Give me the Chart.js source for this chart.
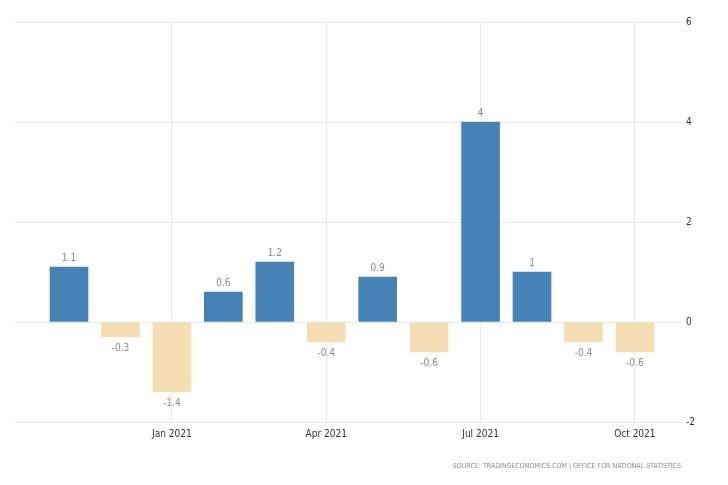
<!DOCTYPE html>
<html>
<head>
<meta charset="utf-8">
<script src="https://cdn.jsdelivr.net/npm/chart.js@4"></script>
<style>
  html, body { margin: 0; padding: 0; background: #fff; }
  #wrap { width: 728px; height: 485px; position: relative; }
</style>
</head>
<body>
<div id="wrap"><canvas id="chart"></canvas></div>
<script>
// monthly change, Nov 2020 .. Oct 2021
const months = ['Nov 2020', 'Dec 2020', 'Jan 2021', 'Feb 2021', 'Mar 2021', 'Apr 2021',
                'May 2021', 'Jun 2021', 'Jul 2021', 'Aug 2021', 'Sep 2021', 'Oct 2021'];
const values = [1.1, -0.3, -1.4, 0.6, 1.2, -0.4, 0.9, -0.6, 4, 1, -0.4, -0.6];
const xTickLabels = ['Jan 2021', 'Apr 2021', 'Jul 2021', 'Oct 2021'];
const yTicks = [-2, 0, 2, 4, 6];

const FONT = "'Liberation Sans Narrow', 'DejaVu Sans Condensed', 'Liberation Sans', sans-serif";

const points = values.map((v, i) => ({ x: i, y: v }));

// value labels above / below bars
const valueLabels = {
    id: 'valueLabels',
    afterDatasetsDraw(chart) {
        const ctx = chart.ctx;
        const meta = chart.getDatasetMeta(0);
        ctx.save();
        ctx.font = '10px ' + FONT;
        ctx.fillStyle = '#8a8a8a';
        ctx.textAlign = 'center';
        ctx.textBaseline = 'middle';
        meta.data.forEach((bar, i) => {
            const v = values[i];
            const y = v >= 0 ? bar.y - 9 : bar.y + 11;
            ctx.fillText(String(v), bar.x, y);
        });
        ctx.restore();
    }
};

// source line at the bottom
const sourceNote = {
    id: 'sourceNote',
    afterDraw(chart) {
        const ctx = chart.ctx;
        ctx.save();
        ctx.font = '7px ' + FONT;
        ctx.fillStyle = '#8a8a8a';
        ctx.textAlign = 'right';
        ctx.textBaseline = 'middle';
        ctx.fillText('SOURCE: TRADINGECONOMICS.COM | OFFICE FOR NATIONAL STATISTICS', 681, 466);
        ctx.restore();
    }
};

new Chart(document.getElementById('chart'), {
    type: 'bar',
    data: {
        datasets: [{
            data: points,
            backgroundColor: c => (c.raw && c.raw.y < 0) ? '#f5deb3' : '#4682b4',
            borderWidth: 0,
            barThickness: 38
        }]
    },
    options: {
        responsive: true,
        maintainAspectRatio: false,
        animation: false,
        layout: { padding: { left: 15, top: 22, right: 24, bottom: 38 } },
        plugins: {
            legend: { display: false },
            tooltip: { enabled: false }
        },
        scales: {
            x: {
                type: 'linear',
                offset: false,
                min: -1.05,
                max: 11.78,
                afterBuildTicks: axis => {
                    axis.ticks = xTickLabels.map(l => ({ value: months.indexOf(l) }));
                },
                afterFit: axis => { axis.height = 25; },
                ticks: {
                    callback: v => months[v],
                    color: '#333',
                    font: { family: FONT, size: 10 },
                    padding: 6,
                    maxRotation: 0
                },
                grid: { color: '#e8e8e8', drawTicks: false, offset: false },
                border: { display: false }
            },
            y: {
                position: 'right',
                min: -2,
                max: 6,
                afterBuildTicks: axis => {
                    axis.ticks = yTicks.map(v => ({ value: v }));
                },
                afterFit: axis => { axis.width = 29; },
                ticks: {
                    color: '#333',
                    font: { family: FONT, size: 10 },
                    padding: 4
                },
                grid: { color: '#e8e8e8', tickLength: 7 },
                border: { display: false }
            }
        }
    },
    plugins: [valueLabels, sourceNote]
});
</script>
</body>
</html>
